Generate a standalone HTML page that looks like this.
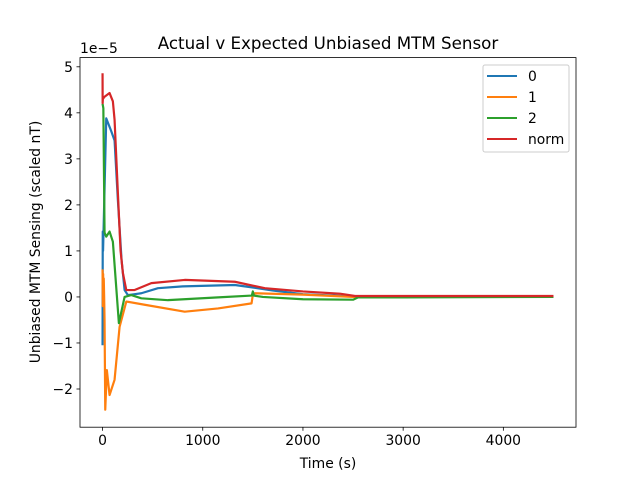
<!DOCTYPE html>
<html><head><meta charset="utf-8"><style>
body{margin:0;background:#fff;}
svg text{font-family:"DejaVu Sans","Liberation Sans",sans-serif;fill:#000;}
</style></head><body>
<svg id="chart" width="640" height="480" xmlns="http://www.w3.org/2000/svg">
<rect width="640" height="480" fill="#fff"/>
<text x="328" y="49" font-size="16.7" text-anchor="middle">Actual v Expected Unbiased MTM Sensor</text>
<text x="328" y="468" font-size="13.9" text-anchor="middle">Time (s)</text>
<text transform="translate(40,242) rotate(-90)" font-size="13.9" text-anchor="middle">Unbiased MTM Sensing (scaled nT)</text>
<text x="80" y="53" font-size="13.9">1e−5</text>
<g id="plot"></g>
<g id="axes"></g>
<g>
<rect x="483" y="65" width="86" height="87" rx="2" fill="#fff" fill-opacity="0.8" stroke="#ccc"/>
<g id="legend"></g>
</g>
</svg>
<script>
const seriesNames=['0','1','2','norm'];
const colors=['#1f77b4','#ff7f0e','#2ca02c','#d62728'];
const t0=[0,2,5,37,87,120,153,190,220,253,320,387,553,800,987,1320,1520,1700,2000,2500,3000,4500];
const v0=[-1.05,1.42,1.0,3.88,3.6,3.4,2.1,0.8,0.15,0.04,0.06,0.08,0.19,0.23,0.24,0.26,0.2,0.14,0.06,0.01,0.01,0.01];
const t1=[0,3,6,9,12,16,20,27,43,70,120,170,237,420,820,1153,1487,1500,1520,2000,2500,3000,4500];
const v1=[0.6,-0.2,0.5,-0.1,0.4,0.0,-0.5,-2.45,-1.59,-2.13,-1.8,-0.65,-0.1,-0.17,-0.32,-0.25,-0.14,0.05,0.08,0.05,0.0,0.0,0.0];
const t2=[0,8,20,37,70,103,163,220,287,387,653,1153,1490,1500,1510,1600,2000,2500,2550,3000,4500];
const v2=[4.2,4.1,1.4,1.31,1.42,1.2,-0.57,0.0,0.04,-0.03,-0.07,-0.01,0.03,0.12,0.03,0.0,-0.05,-0.06,-0.01,-0.01,0.0];
const t3=[0,1,3,20,70,103,120,153,180,203,237,320,487,820,1320,1620,2000,2370,2520,3000,4500];
const v3=[4.86,4.21,4.3,4.35,4.43,4.25,3.85,2.26,1.0,0.52,0.15,0.15,0.3,0.37,0.33,0.19,0.12,0.07,0.02,0.02,0.02];
const xTicks=[0,1000,2000,3000,4000];
const yTicks=[-2,-1,0,1,2,3,4,5];
const X0=80,X1=576,Y0=57.6,Y1=427.2;
const xmin=-225,xmax=4725,ymin=-2.83,ymax=5.2;
function sx(t){return X0+(t-xmin)/(xmax-xmin)*(X1-X0);}
function sy(v){return Y1-(v-ymin)/(ymax-ymin)*(Y1-Y0);}
const NS='http://www.w3.org/2000/svg';
const plot=document.getElementById('plot');
const ts=[t0,t1,t2,t3],vs=[v0,v1,v2,v3];
for(let s=0;s<4;s++){
  const p=document.createElementNS(NS,'polyline');
  p.setAttribute('points',ts[s].map((t,i)=>sx(t).toFixed(2)+','+sy(vs[s][i]).toFixed(2)).join(' '));
  p.setAttribute('fill','none');p.setAttribute('stroke',colors[s]);p.setAttribute('stroke-width','2.2');
  p.setAttribute('stroke-linejoin','round');
  
  
  plot.appendChild(p);
}
const axes=document.getElementById('axes');
const frame=document.createElementNS(NS,'rect');
frame.setAttribute('x',X0);frame.setAttribute('y',Y0);frame.setAttribute('width',X1-X0);frame.setAttribute('height',Y1-Y0);
frame.setAttribute('fill','none');frame.setAttribute('stroke','#000');frame.setAttribute('stroke-width','0.8');


axes.appendChild(frame);
xTicks.forEach(v=>{
  const x=sx(v);
  const l=document.createElementNS(NS,'line');
  l.setAttribute('x1',x);l.setAttribute('x2',x);l.setAttribute('y1',Y1);l.setAttribute('y2',Y1+3.5);l.setAttribute('stroke','#000');l.setAttribute('stroke-width','0.8');
  
  
  axes.appendChild(l);
  const tx=document.createElementNS(NS,'text');
  tx.setAttribute('x',x);tx.setAttribute('y',Y1+18);tx.setAttribute('font-size','13.9');tx.setAttribute('text-anchor','middle');
  tx.textContent=String(v);
  
  
  axes.appendChild(tx);
});
yTicks.forEach(v=>{
  const y=sy(v);
  const l=document.createElementNS(NS,'line');
  l.setAttribute('x1',X0-3.5);l.setAttribute('x2',X0);l.setAttribute('y1',y);l.setAttribute('y2',y);l.setAttribute('stroke','#000');l.setAttribute('stroke-width','0.8');
  
  
  axes.appendChild(l);
  const tx=document.createElementNS(NS,'text');
  tx.setAttribute('x',X0-7);tx.setAttribute('y',y+5);tx.setAttribute('font-size','13.9');tx.setAttribute('text-anchor','end');
  tx.textContent=(v<0?'−'+Math.abs(v):String(v));
  
  
  axes.appendChild(tx);
});
const leg=document.getElementById('legend');
seriesNames.forEach((n,i)=>{
  const y=76+i*21;
  const l=document.createElementNS(NS,'line');
  l.setAttribute('x1',487);l.setAttribute('x2',517);l.setAttribute('y1',y);l.setAttribute('y2',y);l.setAttribute('stroke',colors[i]);l.setAttribute('stroke-width','2');
  
  
  leg.appendChild(l);
  const tx=document.createElementNS(NS,'text');
  tx.setAttribute('x',528);tx.setAttribute('y',y+5);tx.setAttribute('font-size','13.9');
  tx.textContent=n;
  
  
  leg.appendChild(tx);
});
</script>
</body></html>
